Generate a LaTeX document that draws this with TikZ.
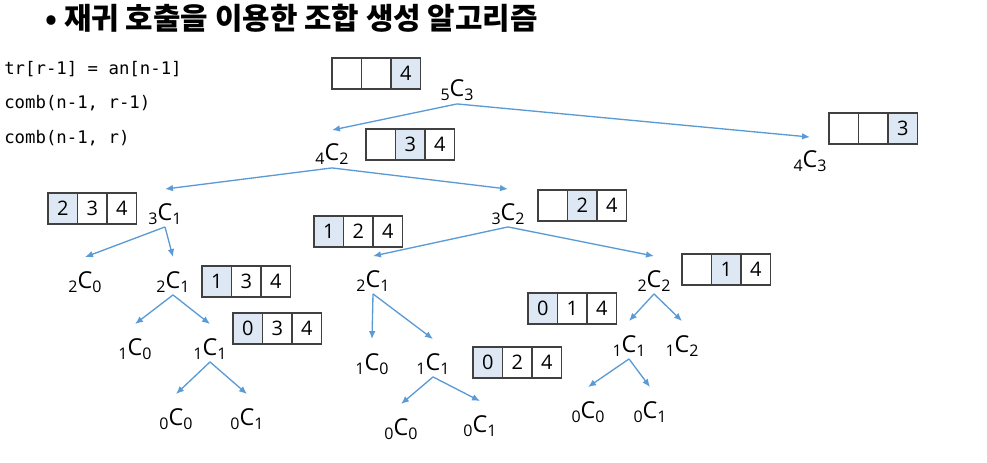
\documentclass[tikz,border=0pt]{standalone}
\usepackage{fontspec}
\usepackage{tikz}
\usetikzlibrary{arrows.meta}

\newfontfamily\titlefont{Noto Sans CJK KR}
\newfontfamily\labelfont{Open Sans}
\newfontfamily\codefont{DejaVu Sans Mono}

\definecolor{arrowblue}{HTML}{5B9BD5}
\definecolor{cellblue}{HTML}{DEE8F4}
\definecolor{cellline}{HTML}{404040}

\newcommand{\nCr}[2]{\raisebox{-3pt}{\fontsize{12pt}{12pt}\selectfont #1}C\raisebox{-3pt}{\fontsize{12pt}{12pt}\selectfont #2}}
% three cells in a row: name, left, top, text/fill list
\newcommand{\trio}[4]{%
  \foreach \t/\f [count=\i] in {#4}
    \node[cell, fill=\f, anchor=north west] (#1\i) at ({#2+(\i-1)*29.5}, #3) {\t};
}

\tikzset{
  lbl/.style={font=\labelfont\fontsize{17.5pt}{17.5pt}\selectfont, anchor=base, inner sep=0pt, text height=23pt, text depth=5pt},
  cell/.style={draw=cellline, line width=0.95pt, minimum width=22.1pt, minimum height=23.25pt, inner sep=0pt, outer sep=0pt, font=\labelfont\fontsize{15pt}{15pt}\selectfont},
  code/.style={font=\codefont\fontsize{13pt}{13pt}\selectfont, anchor=base west, inner sep=0pt},
  arr/.style={draw=arrowblue, line width=1pt, -{Latex[length=6pt,width=5pt]}},
}

\begin{document}
\begin{tikzpicture}[x=0.75pt, y=-0.75pt]
  \useasboundingbox (0,0) rectangle (987,463);

  \node[anchor=base west, inner sep=0pt, font=\titlefont\bfseries\fontsize{22.4pt}{22.4pt}\selectfont] (title) at (45,30) {• 재귀 호출을 이용한 조합 생성 알고리즘};

  \node[code] (line1) at (4,75) {tr[r-1] = an[n-1]};
  \node[code] (line2) at (4,109) {comb(n-1, r-1)};
  \node[code] (line3) at (4,144) {comb(n-1, r)};

  % calls
  \node[lbl] (n53) at (457,97) {\nCr{5}{3}};
  \node[lbl] (n42) at (332,161) {\nCr{4}{2}};
  \node[lbl] (n43) at (810,168) {\nCr{4}{3}};
  \node[lbl] (n31) at (165,220) {\nCr{3}{1}};
  \node[lbl] (n32) at (508,220) {\nCr{3}{2}};
  \node[lbl] (n20) at (85,288) {\nCr{2}{0}};
  \node[lbl] (n21) at (173,288) {\nCr{2}{1}};
  \node[lbl] (n10) at (135,355) {\nCr{1}{0}};
  \node[lbl] (n11) at (210,355) {\nCr{1}{1}};
  \node[lbl] (n00) at (176,425) {\nCr{0}{0}};
  \node[lbl] (n01) at (247,425) {\nCr{0}{1}};
  \node[lbl] (m21) at (373,287) {\nCr{2}{1}};
  \node[lbl] (m10) at (372,370) {\nCr{1}{0}};
  \node[lbl] (m11) at (433,370) {\nCr{1}{1}};
  \node[lbl] (m00) at (401,435) {\nCr{0}{0}};
  \node[lbl] (m01) at (480,432) {\nCr{0}{1}};
  \node[lbl] (r22) at (654,287) {\nCr{2}{2}};
  \node[lbl] (r11) at (629,352) {\nCr{1}{1}};
  \node[lbl] (r12) at (682,352) {\nCr{1}{2}};
  \node[lbl] (r00) at (588,418) {\nCr{0}{0}};
  \node[lbl] (r01) at (650,418) {\nCr{0}{1}};

  \draw[arr] (n53.south) -- (n42.north);
  \draw[arr] (n53.south) -- (n43.north);
  \draw[arr] (n42.south) -- (n31.north);
  \draw[arr] (n42.south) -- (n32.north);
  \draw[arr] (n31.south) -- (n20.north);
  \draw[arr] (n31.south) -- (n21.north);
  \draw[arr] (n21.south) -- (n10.north);
  \draw[arr] (n21.south) -- (n11.north);
  \draw[arr] (n11.south) -- (n00.north);
  \draw[arr] (n11.south) -- (n01.north);
  \draw[arr] (n32.south) -- (m21.north);
  \draw[arr] (n32.south) -- (r22.north);
  \draw[arr] (m21.south) -- (m10.north);
  \draw[arr] (m21.south) -- (m11.north);
  \draw[arr] (m11.south) -- (m00.north);
  \draw[arr] (m11.south) -- (m01.north);
  \draw[arr] (r22.south) -- (r11.north);
  \draw[arr] (r22.south) -- (r12.north);
  \draw[arr] (r11.south) -- (r00.north);
  \draw[arr] (r11.south) -- (r01.north);

  % arrays
  \trio{b53}{332}{58}{{}/white, {}/white, 4/cellblue}
  \trio{b42}{366}{129}{{}/white, 3/cellblue, 4/white}
  \trio{b43}{829}{113}{{}/white, {}/white, 3/cellblue}
  \trio{b31}{48}{193}{2/cellblue, 3/white, 4/white}
  \trio{b32}{538}{190}{{}/white, 2/cellblue, 4/white}
  \trio{b21}{202}{266}{1/cellblue, 3/white, 4/white}
  \trio{b11}{233}{313}{0/cellblue, 3/white, 4/white}
  \trio{c21}{314}{216}{1/cellblue, 2/white, 4/white}
  \trio{c11}{473}{347}{0/cellblue, 2/white, 4/white}
  \trio{d22}{682}{254}{{}/white, 1/cellblue, 4/white}
  \trio{d11}{528}{293}{0/cellblue, 1/white, 4/white}
\end{tikzpicture}
\end{document}
